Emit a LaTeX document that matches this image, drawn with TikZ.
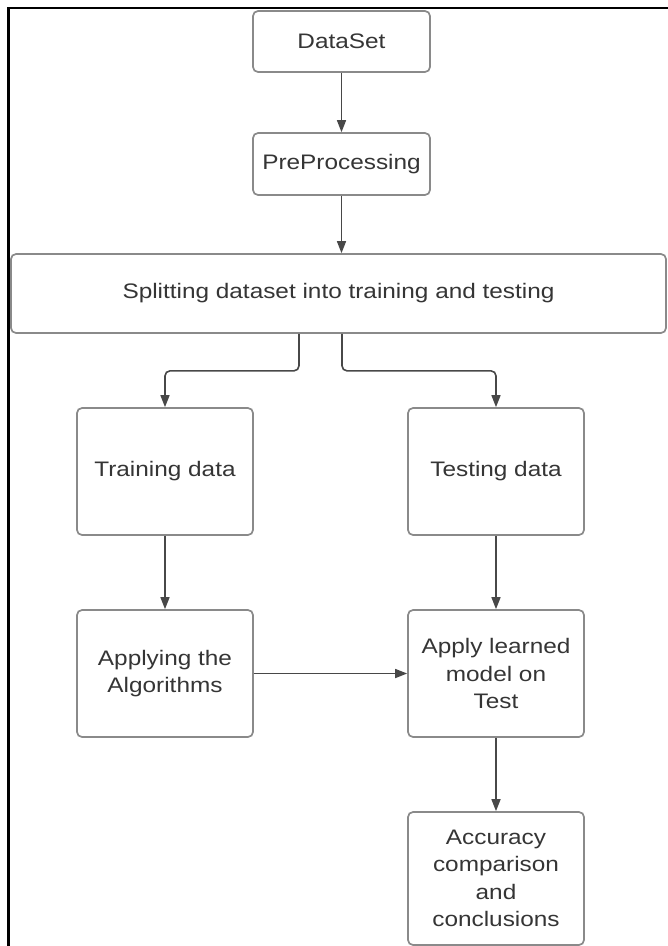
\documentclass[tikz,border=0pt]{standalone}
\usepackage{fontspec}
\setmainfont{Liberation Sans}[FakeStretch=1.16]
\usetikzlibrary{arrows.meta,calc}
\definecolor{boxline}{HTML}{8A8A8A}
\definecolor{txt}{HTML}{353535}
\definecolor{arrcol}{HTML}{484848}
\tikzset{
  box/.style={draw=boxline, line width=1.7pt, rounded corners=5pt, fill=white,
    text=txt, align=center, inner sep=0pt,
    font=\fontsize{21}{27.5}\selectfont},
  arr/.style={draw=arrcol, line width=1.6pt,
    -{Triangle[length=12pt,width=9pt]}},
  frame/.style={draw=black, line width=2.6pt}
}
\begin{document}
\begin{tikzpicture}[x=1pt,y=-1pt]
\useasboundingbox (0,0) rectangle (668,946);
\draw[frame] (670,8) -- (8.7,8) -- (8.7,950);

\node[box, minimum width=177pt, minimum height=61pt] (ds) at (341.5,41.5) {DataSet};
\node[box, minimum width=177pt, minimum height=62pt] (pp) at (341.5,164) {PreProcessing};
\node[box, minimum width=655pt, minimum height=79pt] (sp) at (338.5,293.5) {Splitting dataset into training and testing};
\node[box, minimum width=176pt, minimum height=127pt] (tr) at (165,471.5) {Training data};
\node[box, minimum width=176pt, minimum height=127pt] (te) at (496,471.5) {Testing data};
\node[box, minimum width=176pt, minimum height=127pt] (al) at (165,673.5) {Applying the\\Algorithms};
\node[box, minimum width=176pt, minimum height=127pt] (ap) at (496,673.5) {Apply learned\\model on\\Test};
\node[box, minimum width=176pt, minimum height=133pt] (ac) at (496,878.5) {Accuracy\\comparison\\and\\conclusions};

\draw[arr] (ds) -- (pp);
\draw[arr] (pp.south) -- (pp.south |- sp.north);
\draw[arr, rounded corners=5pt] ([xshift=-39.5pt]sp.south) -- ++(0,37) -| (tr.north);
\draw[arr, rounded corners=5pt] ([xshift=3.5pt]sp.south) -- ++(0,37) -| (te.north);
\draw[arr] (tr) -- (al);
\draw[arr] (te) -- (ap);
\draw[arr] (al) -- (ap);
\draw[arr] (ap) -- (ac);
\end{tikzpicture}
\end{document}
